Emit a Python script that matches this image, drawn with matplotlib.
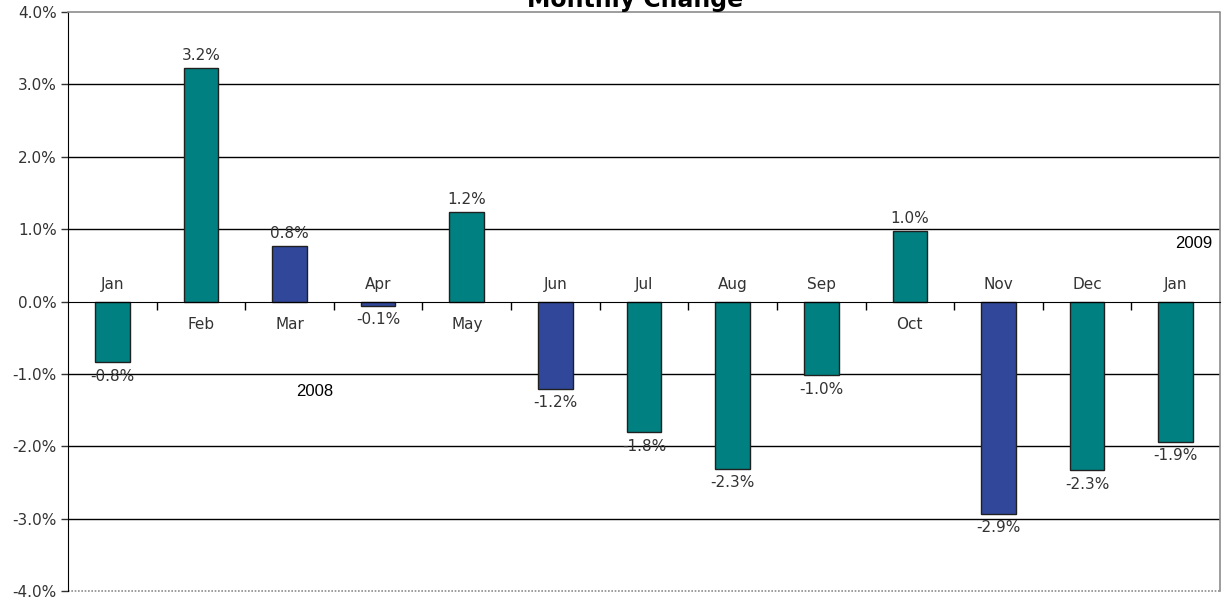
import matplotlib
matplotlib.use("Agg")
import matplotlib.pyplot as plt
from matplotlib.ticker import FuncFormatter, FixedLocator

# monthly change in percent, Jan 2008 .. Jan 2009
months = ["Jan", "Feb", "Mar", "Apr", "May", "Jun", "Jul",
          "Aug", "Sep", "Oct", "Nov", "Dec", "Jan"]
change = [-0.84, 3.22, 0.76, -0.06, 1.24, -1.21, -1.81,
          -2.31, -1.02, 0.98, -2.93, -2.33, -1.94]
highlight = [False, False, True, True, False, True, False,
             False, False, False, True, False, False]
years = ["2008", "2009"]

TEAL = "#008080"
BLUE = "#30479a"
GRID = "#000000"
BORDER = "#8c8c8c"

plt.rcParams["font.family"] = ["DejaVu Sans"]

fig = plt.figure(figsize=(12.22, 6.03), dpi=100)
ax = fig.add_axes([68 / 1222, 12 / 603, 1152 / 1222, 579 / 603])

x = list(range(len(months)))
colors = [BLUE if h else TEAL for h in highlight]
bars = ax.bar(x, change, width=0.39, color=colors, edgecolor="#202020",
              linewidth=1.0, zorder=3)

ax.set_xlim(-0.5, len(months) - 0.5)
ax.set_ylim(-4, 4)

# horizontal gridlines every 1%
for v in [-3, -2, -1, 1, 2, 3]:
    ax.axhline(v, color=GRID, lw=1.0, zorder=1)
ax.axhline(-4, color=BORDER, lw=1.2, ls=(0, (1, 1)), zorder=1, clip_on=False)

# x axis sits on zero, ticks between categories
ax.spines["bottom"].set_position(("data", 0))
ax.spines["bottom"].set_color("black")
ax.spines["bottom"].set_zorder(4)
ax.spines["left"].set_color("black")
for s in ("top", "right"):
    ax.spines[s].set_color(BORDER)
    ax.spines[s].set_linestyle((0, (1, 1)))
    ax.spines[s].set_linewidth(1.2)

ax.xaxis.set_major_locator(FixedLocator([i + 0.5 for i in x[:-1]]))
ax.set_xticklabels([])
ax.tick_params(axis="x", direction="out", length=6, width=1, color="black")
ax.set_yticks([-4, -3, -2, -1, 0, 1, 2, 3, 4])
ax.yaxis.set_major_formatter(FuncFormatter(lambda v, _: f"{v:.1f}%"))
ax.tick_params(axis="y", direction="out", length=5, width=1,
               labelsize=11, colors="#333333", pad=3)
for lab in ax.get_yticklabels():
    lab.set_color("#333333")

# value labels and month names
for xi, v, m in zip(x, change, months):
    off = 9 if v >= 0 else -10
    ax.annotate(f"{v:.1f}%", (xi, v), xytext=(0, off), textcoords="offset points",
                ha="center", va="center", fontsize=11, color="#333333", zorder=5)
    my = -0.32 if v >= 0 else 0.23
    ax.text(xi, my, m, ha="center", va="center", fontsize=11,
            color="#333333", zorder=5)

ax.text(2.28, -1.24, years[0], ha="center", va="center",
        fontsize=12, family="Liberation Sans", color="black")
ax.text(12.2, 0.8, years[1], ha="center", va="center",
        fontsize=12, family="Liberation Sans", color="black")

fig.text(0.52, 1 - 7 / 603, "Monthly Change", ha="center", va="baseline",
         fontsize=17, fontweight="bold", color="black")

fig.savefig("out.png", dpi=100, facecolor="white")
